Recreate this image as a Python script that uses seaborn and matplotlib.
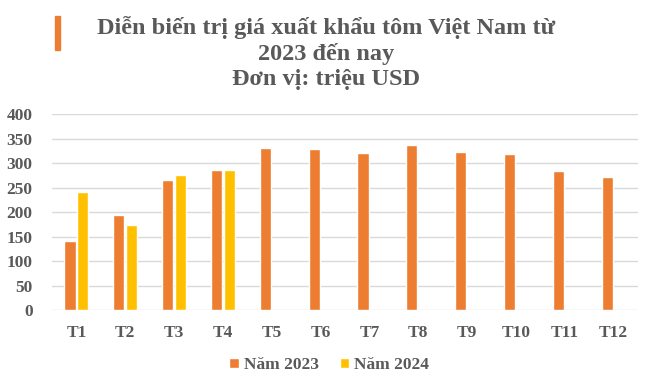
import matplotlib
matplotlib.use("Agg")
import matplotlib.pyplot as plt
import seaborn as sns
import pandas as pd
import numpy as np
from matplotlib.patches import Rectangle

months = ["T1", "T2", "T3", "T4", "T5", "T6", "T7", "T8", "T9", "T10", "T11", "T12"]
values_2023 = [141, 194, 265, 286, 331, 329, 320, 337, 322, 318, 284, 271]
values_2024 = [241, 174, 276, 286, np.nan, np.nan, np.nan, np.nan, np.nan, np.nan, np.nan, np.nan]
series_names = ["Năm 2023", "Năm 2024"]
title_text = "Diễn biến trị giá xuất khẩu tôm Việt Nam từ\n2023 đến nay\nĐơn vị: triệu USD"
yticks = [0, 50, 100, 150, 200, 250, 300, 350, 400]

df = pd.DataFrame({
    "Tháng": months * 2,
    "Giá trị": values_2023 + values_2024,
    "Năm": [series_names[0]] * 12 + [series_names[1]] * 12,
})

sns.set_theme(style="white")
plt.rcParams["font.family"] = ["Liberation Serif", "DejaVu Serif"]
text_color = "#595959"

fig = plt.figure(figsize=(6.52, 3.87), dpi=100)
ax = fig.add_axes([52 / 652, 1 - 310 / 387, (638 - 52) / 652, (310 - 114) / 387])

sns.barplot(data=df, x="Tháng", y="Giá trị", hue="Năm", order=months,
            hue_order=series_names, palette=["#ED7D31", "#FFC000"],
            width=0.52, gap=0.12, ax=ax, legend=True, saturation=1)

ax.set_ylim(0, 400)
ax.set_xlim(-0.5, 11.5)
ax.set_yticks(yticks)
ax.set_yticklabels([str(v) for v in yticks])
ax.yaxis.grid(True, color="#d9d9d9", linewidth=1)
ax.set_axisbelow(True)
for s in ax.spines.values():
    s.set_visible(False)
ax.set_xlabel("")
ax.set_ylabel("")
ax.tick_params(axis="both", length=0, labelsize=12.5, labelcolor=text_color)
ax.tick_params(axis="x", pad=11)
ax.tick_params(axis="y", pad=14)
for lab in ax.get_xticklabels() + ax.get_yticklabels():
    lab.set_fontweight("bold")

handles, labels = ax.get_legend_handles_labels()
ax.get_legend().remove()
leg = fig.legend(handles, labels, loc="center", bbox_to_anchor=(0.505, 1 - 365 / 387), ncol=2,
                 frameon=False, handlelength=0.55, handleheight=0.55, handletextpad=0.3,
                 columnspacing=1.2, prop={"weight": "bold", "size": 12.5})
for t in leg.get_texts():
    t.set_color(text_color)

fig.text(0.5, 1 - 53 / 387, title_text, ha="center", va="center", fontsize=17.5,
         fontweight="bold", color=text_color, linespacing=1.25)
fig.patches.append(Rectangle((55 / 652, 1 - 50 / 387), 5 / 652, 34 / 387,
                             transform=fig.transFigure, color="#ED7D31"))

fig.savefig("out.png", dpi=100)
